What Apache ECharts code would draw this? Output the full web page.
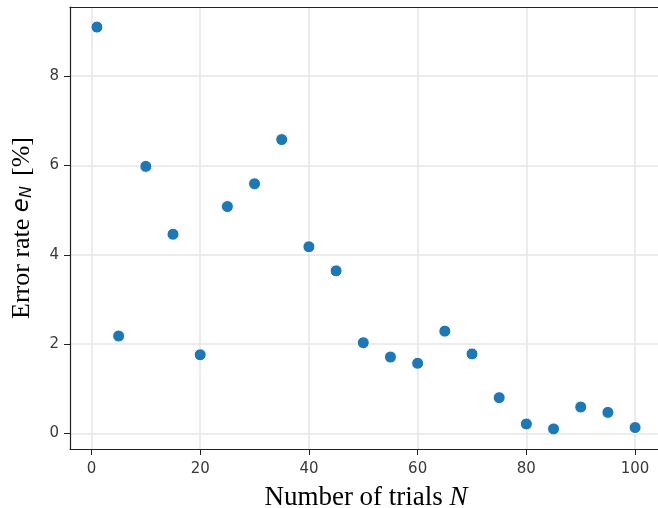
<!DOCTYPE html>
<html>
<head>
<meta charset="utf-8">
<script src="https://cdn.jsdelivr.net/npm/echarts@6/dist/echarts.min.js"></script>
<style>
  html, body { margin: 0; padding: 0; background: #fff; overflow: hidden; }
  #chart { width: 658px; height: 508px; }
</style>
</head>
<body>
<div id="chart"></div>
<script>
var trials = [1, 5, 10, 15, 20, 25, 30, 35, 40, 45, 50, 55, 60, 65, 70, 75, 80, 85, 90, 95, 100];
var errorRate = [9.1, 2.18, 5.98, 4.46, 1.76, 5.08, 5.59, 6.58, 4.18, 3.64, 2.03, 1.71, 1.57, 2.29, 1.78, 0.80, 0.21, 0.10, 0.59, 0.47, 0.13];
var xTicks = [0, 20, 40, 60, 80, 100];
var yTicks = [0, 2, 4, 6, 8];

var points = [];
for (var i = 0; i < trials.length; i++) {
    points.push([trials[i], errorRate[i]]);
}

var myChart = echarts.init(document.getElementById("chart"));
var tickFont = { fontFamily: "DejaVu Sans", fontSize: 15, color: "#3a3a3a" };
var serif = "Liberation Serif";
var spine = { color: "#222", width: 1.2 };
var gridLine = { color: "#e6e6e6", width: 1.5 };

var option = {
    animation: false,
    backgroundColor: "#fff",
    grid: {
        left: 70,
        top: 7,
        width: 592,
        height: 442,
        containLabel: false,
        outerBoundsMode: "none"
    },
    xAxis: [{
        type: "value",
        min: -3.95,
        max: 104.95,
        name: "{t|Number of trials }{i|N}",
        nameLocation: "middle",
        nameGap: 35,
        nameTextStyle: {
            rich: {
                t: { fontFamily: serif, fontSize: 27, color: "#000" },
                i: { fontFamily: serif, fontSize: 27, fontStyle: "italic", color: "#000" }
            }
        },
        axisLine: { show: true, onZero: false, lineStyle: spine },
        axisTick: { show: true, customValues: xTicks, length: 6, lineStyle: { color: "#222" } },
        axisLabel: Object.assign({ customValues: xTicks, margin: 13 }, tickFont),
        splitLine: { show: true, lineStyle: gridLine }
    }, {
        // top spine
        type: "value",
        position: "top",
        min: -3.95,
        max: 104.95,
        axisLine: { show: true, onZero: false, lineStyle: spine },
        axisTick: { show: false },
        axisLabel: { show: false },
        splitLine: { show: false }
    }],
    yAxis: {
        type: "value",
        min: -0.35,
        max: 9.55,
        name: "{t|Error rate }{i|e}{s|N}{b|[%]}",
        nameLocation: "middle",
        nameGap: 35,
        nameRotate: 90,
        nameTextStyle: {
            rich: {
                t: { fontFamily: serif, fontSize: 26, color: "#000" },
                b: { fontFamily: serif, fontSize: 26, color: "#000", padding: [0, 0, 0, 10] },
                i: { fontFamily: "DejaVu Sans", fontSize: 23, fontStyle: "italic", color: "#000" },
                s: { fontFamily: "DejaVu Sans", fontSize: 16, fontStyle: "italic", color: "#000", verticalAlign: "bottom", padding: [9, 0, 0, 0] }
            }
        },
        axisLine: { show: true, onZero: false, lineStyle: spine },
        axisTick: { show: true, customValues: yTicks, length: 6, lineStyle: { color: "#222" } },
        axisLabel: Object.assign({ customValues: yTicks, margin: 11 }, tickFont),
        splitLine: { show: true, lineStyle: gridLine }
    },
    series: [{
        type: "scatter",
        data: points,
        symbol: "circle",
        symbolSize: 12,
        itemStyle: { color: "#1f77b4", borderColor: "#fff", borderWidth: 1, opacity: 1 }
    }]
};

myChart.setOption(option, true);
</script>
</body>
</html>
